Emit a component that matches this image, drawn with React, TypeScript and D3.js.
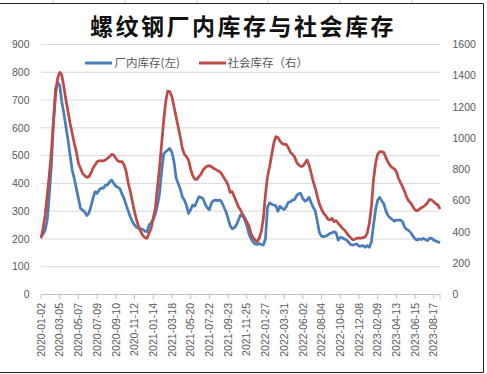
import { useEffect, useRef } from 'react';
import * as d3 from 'd3';

// weekly, 2020-01-02 onward
const factoryStock = [
  208, 217, 232, 268, 358, 466, 622, 742, 764, 754, 694, 652, 604, 556, 502, 448, 418, 382, 346, 310,
  304, 298, 284, 292, 316, 346, 370, 364, 376, 384, 382, 394, 394, 406, 412, 400, 390, 386, 380,
  362, 345, 322, 300, 280, 262, 250, 242, 238, 236, 234, 228, 226, 250, 258, 270, 290, 320, 360, 440,
  505, 514, 520, 526, 512, 478, 420, 400, 380, 352, 340, 320, 292, 305, 322, 318, 335, 352,
  350, 345, 325, 312, 305, 330, 338, 340, 338, 340, 332, 315, 298, 275, 248, 237, 240, 250, 268, 286,
  284, 270, 248, 220, 202, 190, 182, 180, 184, 180, 178, 200, 315, 330, 325, 322, 320, 300, 318,
  310, 306, 316, 332, 334, 340, 342, 356, 363, 364, 345, 336, 340, 350, 330, 314, 300, 262, 222, 210,
  208, 210, 214, 220, 222, 226, 222, 196, 206, 204, 200, 196, 188, 180, 178, 180, 182, 174,
  174, 176, 170, 176, 170, 190, 250, 305, 340, 350, 336, 326, 300, 284, 276, 270, 264, 268, 268, 268,
  262, 242, 234, 230, 222, 210, 200, 196, 200, 198, 202, 198, 194, 203, 202, 196, 192, 190, 186,
];

const socialStock = [
  360, 424, 509, 637, 765, 914, 1106, 1277, 1384, 1422, 1405, 1330, 1245, 1170, 1096, 1032, 968, 914, 840, 808,
  776, 761, 750, 754, 776, 808, 829, 850, 857, 855, 855, 861, 872, 882, 897, 893, 872, 855, 850,
  850, 829, 786, 712, 658, 594, 530, 477, 434, 402, 377, 364, 360, 392, 424, 488, 552, 680, 808, 957,
  1106, 1234, 1302, 1298, 1266, 1202, 1138, 1074, 1010, 936, 897, 882, 861, 804, 761, 739, 737, 754,
  770, 797, 812, 822, 825, 818, 808, 801, 793, 786, 770, 748, 727, 701, 654, 658, 626, 594, 562, 541,
  513, 492, 466, 441, 392, 364, 349, 338, 360, 402, 488, 637, 754, 818, 893, 968, 1010, 1004, 982,
  967, 961, 961, 940, 910, 897, 882, 846, 829, 820, 822, 840, 861, 829, 776, 722, 680, 626, 577, 545,
  520, 505, 483, 477, 488, 466, 473, 456, 441, 424, 413, 396, 377, 364, 351, 353, 360, 362,
  360, 364, 370, 392, 456, 562, 733, 840, 897, 914, 914, 908, 876, 846, 825, 812, 804, 786, 744, 716,
  690, 658, 622, 598, 584, 562, 541, 535, 545, 556, 562, 573, 588, 609, 605, 594, 581, 573, 547,
];

// one label every 9 weeks
const tickLabels = [
  '2020-01-02', '2020-03-05', '2020-05-07', '2020-07-09', '2020-09-10', '2020-11-12',
  '2021-01-14', '2021-03-18', '2021-05-20', '2021-07-22', '2021-09-23', '2021-11-25',
  '2022-01-27', '2022-03-31', '2022-06-02', '2022-08-04', '2022-10-06', '2022-12-08',
  '2023-02-09', '2023-04-13', '2023-06-15', '2023-08-17',
];
const tickStep = 9;

const leftTicks = [0, 100, 200, 300, 400, 500, 600, 700, 800, 900];
const rightTicks = [0, 200, 400, 600, 800, 1000, 1200, 1400, 1600];

const seriesNames = ['厂内库存(左)', '社会库存（右）'];
const title = '螺纹钢厂内库存与社会库存';

export default function App() {
  const ref = useRef<SVGSVGElement | null>(null);

  useEffect(() => {
    const W = 487;
    const H = 374;
    const svg = d3.select(ref.current);
    svg.selectAll('*').remove();

    const blue = '#4a7ebb';
    const red = '#be4b48';
    const num = '"Liberation Sans", Arial, sans-serif';
    const cjk = '"Noto Sans CJK SC", sans-serif';

    svg.append('rect').attr('width', W).attr('height', H).attr('fill', '#fff');

    // spreadsheet cell lines above the chart frame + frame
    [53, 125, 197, 268, 340, 412].forEach(x => {
      svg.append('line').attr('x1', x).attr('x2', x).attr('y1', 0).attr('y2', 3)
        .attr('stroke', '#d4d4d4');
    });
    svg.append('path')
      .attr('d', `M0,3.5H483.5V372.5H0`)
      .attr('fill', 'none').attr('stroke', '#222').attr('stroke-width', 1);

    const n = factoryStock.length;
    const x = d3.scaleLinear().domain([0, n - 1]).range([41, 440]);
    const yL = d3.scaleLinear().domain([0, 900]).range([294.5, 44.5]);
    const yR = d3.scaleLinear().domain([0, 1600]).range([294.5, 44.5]);

    // gridlines
    svg.append('g').selectAll('line').data(leftTicks.slice(1)).join('line')
      .attr('x1', 41).attr('x2', 440)
      .attr('y1', d => yL(d)).attr('y2', d => yL(d))
      .attr('stroke', '#d9d9d9').attr('stroke-width', 1);

    // left labels
    svg.append('g').selectAll('text').data(leftTicks).join('text')
      .attr('x', 29.5).attr('y', d => yL(d)).attr('dy', '0.35em')
      .attr('text-anchor', 'end').attr('font-family', num).attr('font-size', 10.5)
      .attr('fill', '#595959').text(d => d);

    // right labels
    svg.append('g').selectAll('text').data(rightTicks).join('text')
      .attr('x', 452.5).attr('y', d => yR(d)).attr('dy', '0.35em')
      .attr('text-anchor', 'start').attr('font-family', num).attr('font-size', 10.5)
      .attr('fill', '#595959').text(d => d);

    // x axis
    svg.append('line').attr('x1', 41).attr('x2', 440)
      .attr('y1', 294.5).attr('y2', 294.5).attr('stroke', '#bfbfbf').attr('stroke-width', 1.2);
    const tickIdx = tickLabels.map((_, k) => k * tickStep);
    svg.append('g').selectAll('line').data(tickIdx).join('line')
      .attr('x1', d => x(d)).attr('x2', d => x(d)).attr('y1', 294.5).attr('y2', 299)
      .attr('stroke', '#bfbfbf').attr('stroke-width', 1);
    svg.append('line').attr('x1', 440).attr('x2', 440).attr('y1', 294.5).attr('y2', 299)
      .attr('stroke', '#bfbfbf');
    svg.append('g').selectAll('text').data(tickLabels).join('text')
      .attr('transform', (_, k) => `translate(${x(k * tickStep)},303) rotate(-90)`)
      .attr('text-anchor', 'end').attr('dy', '0.35em')
      .attr('font-family', num).attr('font-size', 10.5).attr('fill', '#595959')
      .text(d => d);

    // lines
    const lineL = d3.line<number>().x((_, i) => x(i)).y(d => yL(d));
    const lineR = d3.line<number>().x((_, i) => x(i)).y(d => yR(d));
    svg.append('path').datum(factoryStock).attr('d', lineL)
      .attr('fill', 'none').attr('stroke', blue).attr('stroke-width', 2.75)
      .attr('stroke-linejoin', 'round');
    svg.append('path').datum(socialStock).attr('d', lineR)
      .attr('fill', 'none').attr('stroke', red).attr('stroke-width', 2.75)
      .attr('stroke-linejoin', 'round');

    // legend
    const legend = [
      { name: seriesNames[0], color: blue, x0: 85, tx: 114.5 },
      { name: seriesNames[1], color: red, x0: 199, tx: 227.5 },
    ];
    legend.forEach(l => {
      svg.append('line').attr('x1', l.x0).attr('x2', l.x0 + 27).attr('y1', 63).attr('y2', 63)
        .attr('stroke', l.color).attr('stroke-width', 3);
      svg.append('text').attr('x', l.tx).attr('y', 63).attr('dy', '0.36em')
        .attr('font-family', cjk).attr('font-size', 11.5).attr('fill', '#595959')
        .text(l.name);
    });

    // title
    svg.append('text').attr('x', 243).attr('y', 35).attr('text-anchor', 'middle')
      .attr('font-family', cjk).attr('font-size', 23).attr('font-weight', 'bold')
      .attr('letter-spacing', 2.5).attr('fill', '#111').text(title);
  }, []);

  return (
    <svg ref={ref} width={487} height={374}
      style={{ position: 'absolute', left: 0, top: 0, display: 'block' }} />
  );
}
